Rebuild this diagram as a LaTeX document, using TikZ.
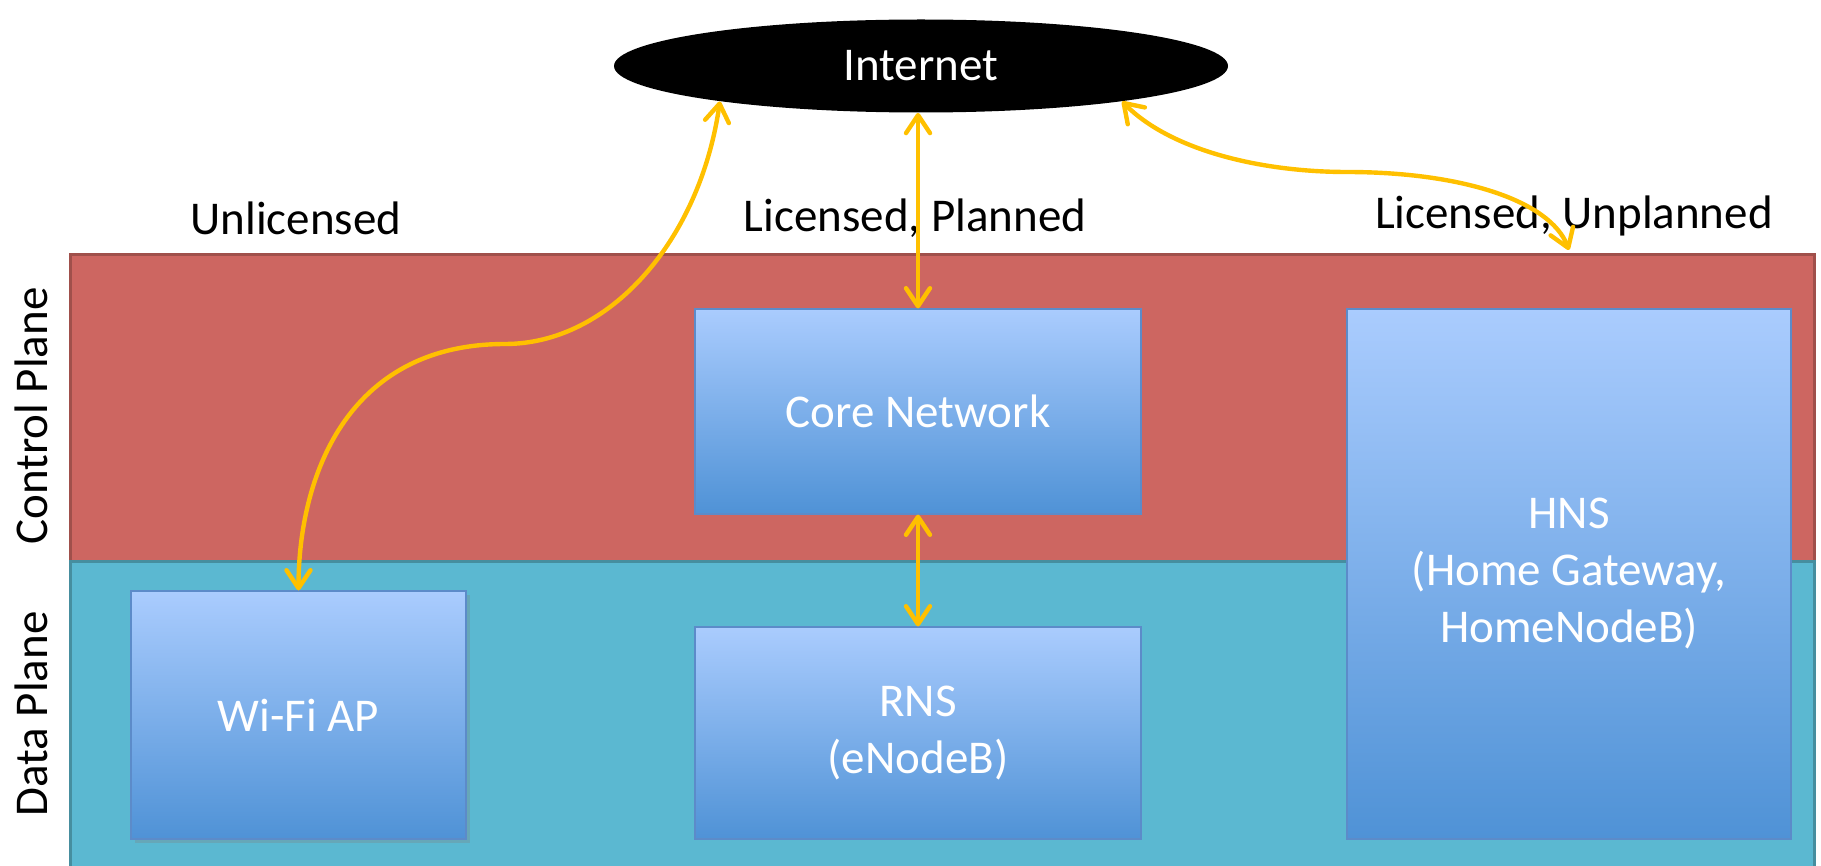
\documentclass[tikz,border=0pt]{standalone}
\usepackage{fontspec}
\setmainfont{Carlito}
\usetikzlibrary{arrows.meta,shapes.geometric,shadows}
\definecolor{redband}{HTML}{CD6661}
\definecolor{redborder}{HTML}{A0504B}
\definecolor{tealband}{HTML}{5BB8D1}
\definecolor{tealborder}{HTML}{468E9F}
\definecolor{boxtop}{HTML}{AACCFE}
\definecolor{boxbot}{HTML}{4F92D6}
\definecolor{boxborder}{HTML}{5C8BC9}
\definecolor{arrowyellow}{HTML}{FFC000}
\tikzset{
  bluebox/.style={draw=boxborder, line width=0.6pt, top color=boxtop, bottom color=boxbot,
    text=white, font=\fontsize{23.5}{28.5}\selectfont, align=center, inner sep=0pt},
  lbl/.style={font=\fontsize{23.5}{28.5}\selectfont, inner sep=0pt},
  link/.style={draw=arrowyellow, line width=2.2pt, line cap=round, line join=round,
    {Straight Barb[length=9pt,width=12pt,round]}-{Straight Barb[length=9pt,width=12pt,round]}},
}
\begin{document}
\begin{tikzpicture}[x=0.5pt,y=-0.5pt]
\useasboundingbox (0,0) rectangle (1821,866);
% bands
\draw[fill=redband, draw=redborder, line width=1.5pt] (70,255) rectangle (1814,561);
\draw[fill=tealband, draw=tealborder, line width=1.5pt] (70,561) rectangle (1814,880);
% side labels
\node[lbl, rotate=90] (cp) at (31,416) {Control Plane};
\node[lbl, rotate=90] (dp) at (31,714) {Data Plane};
% column labels
\node[lbl] (unl) at (296,218) {Unlicensed};
\node[lbl] (lp) at (915,218) {Licensed, Planned};
\node[lbl] (lu) at (1574,216) {Licensed, Unplanned};
% internet
\node[ellipse, fill=black, minimum width=307pt, minimum height=46.5pt, inner sep=0pt,
  text=white, font=\fontsize{23.5}{28.5}\selectfont] (inet) at (921,66) {Internet};
% boxes
\node[bluebox, minimum width=223pt, minimum height=102.5pt] (core) at (918,411.5) {Core Network};
\node[bluebox, minimum width=223pt, minimum height=106pt] (rns) at (918,733) {RNS\\(eNodeB)};
\node[bluebox, minimum width=222pt, minimum height=265pt] (hns) at (1569,574) {HNS\\(Home Gateway,\\HomeNodeB)};
\node[bluebox, minimum width=167.5pt, minimum height=124pt,
  drop shadow={shadow xshift=2pt, shadow yshift=-2pt, opacity=0.3}] (wifi) at (298.5,715) {Wi-Fi AP};
% connectors
\coordinate (hnsend) at (1569,250);
\draw[link] (core.north |- inet.south) -- (core.north);
\draw[link] (core.south) -- (rns.north);
\draw[link] (inet.-170) .. controls (700,240) and (610,344) .. (505,344)
  .. controls (345,344) and (298.5,480) .. (wifi.north);
\draw[link] (inet.-10) .. controls (1170,150) and (1260,172) .. (1347,172)
  .. controls (1460,172) and (1550,200) .. (hnsend);
\end{tikzpicture}
\end{document}
